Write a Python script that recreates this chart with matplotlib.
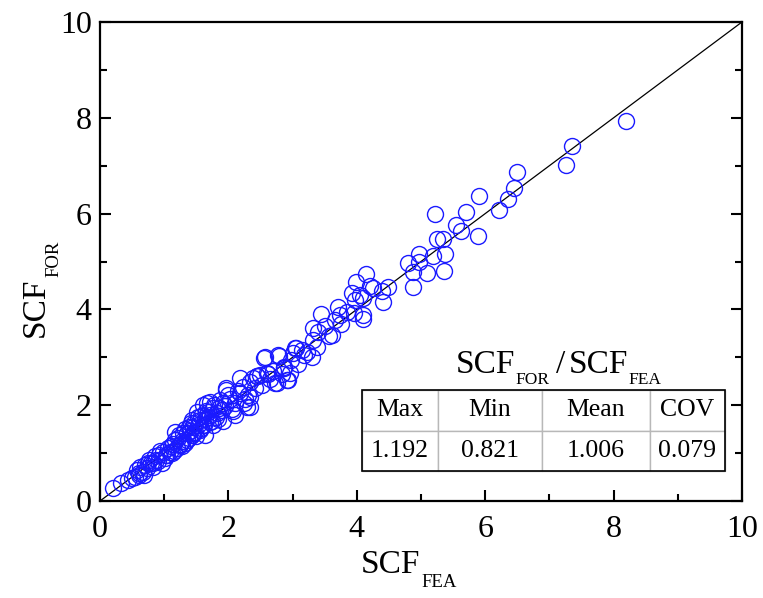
"""
SCF from formula vs SCF from FEA, with ratio statistics table.
"""

import numpy as np
import matplotlib.pyplot as plt
from matplotlib.patches import Rectangle
from matplotlib.ticker import MultipleLocator

### Fonts
plt.rcParams['font.family'] = 'Liberation Serif'

### Data
scf_fea = [0.21, 0.32, 0.44, 0.50, 0.55, 0.61, 0.57, 0.67, 0.73, 0.70,
           0.77, 0.80, 0.83, 0.88, 0.96, 0.92, 1.01, 0.98, 1.06, 1.12,
           1.09, 1.17, 1.25, 1.20, 1.30, 1.38, 1.33, 1.45, 1.43, 1.40,
           1.50, 1.56, 1.61, 1.55, 1.66, 1.71, 1.76, 1.71, 1.61, 1.51,
           1.43, 1.38, 1.17, 1.45, 1.64, 1.69, 1.76, 1.82, 1.90, 1.92,
           1.92, 1.87, 1.97, 1.97, 2.10, 2.10, 2.18, 2.29, 2.31, 2.18,
           2.34, 2.49, 2.39, 2.52, 2.61, 2.60, 2.75, 2.73, 2.91, 2.93,
           2.87, 2.86, 2.96, 2.97, 3.09, 2.79, 2.55, 2.57, 2.78, 3.04,
           3.14, 3.06, 3.30, 3.38, 3.32, 3.61, 3.40, 3.32, 3.76, 3.66,
           4.10, 3.44, 3.95, 4.10, 3.74, 3.71, 3.97, 4.10, 3.92, 4.20,
           3.99, 4.15, 4.39, 4.41, 4.48, 4.87, 4.87, 5.09, 4.79, 4.97,
           4.97, 5.19, 5.37, 5.36, 5.25, 5.34, 5.22, 5.55, 5.63, 5.70,
           5.89, 5.91, 6.21, 6.35, 6.45, 6.50, 7.26, 7.35, 8.19,
           0.85, 1.03, 1.14, 1.22, 1.28, 1.35, 1.47, 1.52, 1.58, 1.63,
           1.68, 1.74, 1.80, 1.85, 1.95, 2.02, 2.05, 2.22, 2.26, 2.42,
           2.45, 2.65, 2.70, 2.83, 3.00, 3.18, 3.22, 3.50, 3.56, 3.85,
           4.05, 4.25, 2.44, 2.34, 2.34, 1.25, 1.43, 1.62, 0.60, 0.83,
           0.62, 0.68, 0.75, 0.90, 0.94, 1.05, 1.10, 1.15, 1.23, 1.27,
           1.32, 1.36, 1.42, 1.48, 1.53, 1.58, 1.65, 1.72, 1.78, 1.84,
           2.00, 2.07, 2.15, 2.24]
scf_for = [0.27, 0.37, 0.44, 0.47, 0.51, 0.58, 0.65, 0.61, 0.68, 0.75,
           0.86, 0.79, 0.72, 0.86, 0.79, 0.95, 0.89, 1.02, 1.10, 1.00,
           1.03, 1.27, 1.17, 1.10, 1.41, 1.31, 1.22, 1.55, 1.38, 1.47,
           1.35, 1.69, 1.59, 1.48, 2.04, 1.80, 1.94, 2.07, 2.00, 1.86,
           1.69, 1.55, 1.45, 1.41, 1.38, 1.76, 1.59, 1.83, 1.90, 1.66,
           2.04, 2.11, 2.32, 2.35, 1.80, 2.05, 2.25, 1.97, 2.21, 2.56,
           2.49, 2.63, 2.56, 2.42, 2.65, 2.67, 2.46, 2.46, 2.53, 2.53,
           2.77, 2.79, 2.67, 2.94, 2.87, 3.03, 2.98, 3.01, 3.05, 3.19,
           3.15, 3.19, 3.00, 3.22, 3.36, 3.47, 3.53, 3.61, 3.70, 3.78,
           3.81, 3.90, 3.92, 3.88, 3.88, 4.06, 4.20, 4.23, 4.35, 4.49,
           4.58, 4.74, 4.39, 4.16, 4.47, 4.47, 4.79, 4.77, 4.96, 5.00,
           5.15, 5.12, 5.16, 4.81, 5.47, 5.48, 5.99, 5.76, 5.64, 6.04,
           5.53, 6.37, 6.08, 6.30, 6.53, 6.87, 7.01, 7.42, 7.94,
           0.93, 0.97, 1.19, 1.32, 1.25, 1.43, 1.63, 1.58, 1.77, 1.71,
           1.85, 1.68, 1.75, 1.95, 1.98, 2.12, 1.93, 2.38, 2.12, 2.35,
           2.60, 2.55, 2.72, 2.65, 3.10, 3.05, 3.12, 3.65, 3.45, 3.95,
           4.30, 4.45, 2.60, 2.18, 1.97, 1.20, 1.38, 1.59, 0.54, 0.80,
           0.70, 0.55, 0.80, 0.84, 1.05, 0.95, 1.15, 1.05, 1.38, 1.15,
           1.50, 1.28, 1.62, 1.45, 1.75, 1.52, 1.88, 1.65, 2.00, 1.72,
           2.22, 1.88, 2.30, 2.05]

# ratio statistics
stat_names  = ['Max', 'Min', 'Mean', 'COV']
stat_values = ['1.192', '0.821', '1.006', '0.079']

### Plot
W, H = 763, 598
fig = plt.figure(figsize=(W / 100, H / 100), dpi=100)
ax = fig.add_axes([100 / W, 1 - 501 / H, 642 / W, 479 / H])

ax.plot([0, 10], [0, 10], color='k', linewidth=0.9, zorder=1)
ax.plot(scf_fea, scf_for, 'o', mfc='none', mec='#1a1aff', ms=11.5, mew=1.0, zorder=2)

ax.set_xlim(0, 10)
ax.set_ylim(0, 10)
ax.xaxis.set_major_locator(MultipleLocator(2))
ax.yaxis.set_major_locator(MultipleLocator(2))
ax.xaxis.set_minor_locator(MultipleLocator(1))
ax.yaxis.set_minor_locator(MultipleLocator(1))
ax.tick_params(which='both', direction='in', top=False, right=True, width=1.5, labelsize=23)
ax.tick_params(which='major', length=8)
ax.tick_params(which='minor', length=5)
ax.tick_params(axis='x', pad=10)
ax.tick_params(axis='y', pad=6)
for sp in ax.spines.values():
    sp.set_linewidth(1.6)

# axis labels, drawn by hand so the subscripts sit low like in the reference
def px(x, y):
    return x / W, 1 - y / H

fig.text(*px(361, 573), 'SCF', fontsize=24, ha='left', va='baseline')
fig.text(*px(421, 587), 'FEA', fontsize=13.5, ha='left', va='baseline')
fig.text(*px(44, 337), 'SCF', fontsize=24, rotation=90, ha='left', va='baseline',
         rotation_mode='anchor')
fig.text(*px(58, 277), 'FOR', fontsize=13.5, rotation=90, ha='left', va='baseline',
         rotation_mode='anchor')

# statistics table
x0, x1 = 0.408, 0.9735
y0, y1 = 0.0626, 0.2317
col_w = np.array([76, 104, 108, 75]) / 363.0
tbl = ax.table(cellText=[stat_names, stat_values],
               colWidths=list(col_w),
               cellLoc='center',
               bbox=[x0, y0, x1 - x0, y1 - y0])
tbl.auto_set_font_size(False)
for (r, c), cell in tbl.get_celld().items():
    cell.set_edgecolor('#b8b8b8')
    cell.set_linewidth(1.0)
    cell.get_text().set_fontsize(18.5)
tbl.set_zorder(3)
ax.add_patch(Rectangle((x0, y0), x1 - x0, y1 - y0, transform=ax.transAxes,
                       fill=False, edgecolor='k', linewidth=1.2, zorder=4))

# table heading: SCF_FOR / SCF_FEA
fig.text(*px(456, 373), 'SCF', fontsize=24, ha='left', va='baseline')
fig.text(*px(515, 384), 'FOR', fontsize=12.5, ha='left', va='baseline')
fig.text(*px(556, 373), '/', fontsize=24, ha='left', va='baseline')
fig.text(*px(569, 373), 'SCF', fontsize=24, ha='left', va='baseline')
fig.text(*px(628, 384), 'FEA', fontsize=12.5, ha='left', va='baseline')

plt.savefig('out.png', dpi=100)
